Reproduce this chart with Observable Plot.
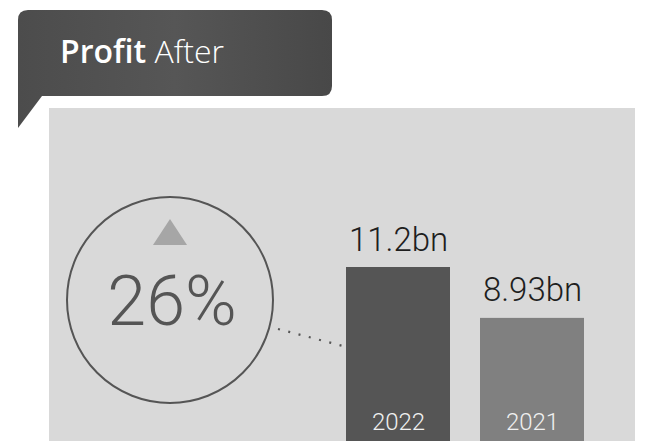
<!DOCTYPE html>
<html>
<head>
<meta charset="utf-8">
<script src="https://cdn.jsdelivr.net/npm/d3@7"></script>
<script src="https://cdn.jsdelivr.net/npm/@observablehq/plot@0.6"></script>
<style>
  html, body { margin: 0; padding: 0; background: #fff; overflow: hidden; }
  #wrap { position: relative; width: 655px; height: 441px; overflow: hidden; background: #fff; font-family: Roboto, "Open Sans", sans-serif; }
  #deco, #chart { position: absolute; left: 0; top: 0; }
  #chart svg { background: transparent; overflow: hidden; }
</style>
</head>
<body>
<div id="wrap">
  <svg id="deco" width="655" height="441" xmlns="http://www.w3.org/2000/svg">
    <defs>
      <linearGradient id="hdr" x1="0" x2="1" y1="0" y2="0">
        <stop offset="0" stop-color="#4c4c4c"/>
        <stop offset="0.5" stop-color="#565656"/>
        <stop offset="1" stop-color="#484848"/>
      </linearGradient>
    </defs>
    <!-- header speech bubble -->
    <path d="M28,10 H322 Q332,10 332,20 V86 Q332,96 322,96 H42 L18,128 V20 Q18,10 28,10 Z" fill="url(#hdr)"/>
    <text id="title" x="60" y="63" fill="#ffffff" font-family="'Open Sans', sans-serif" font-size="32"></text>
    <!-- grey panel -->
    <rect x="49" y="108" width="586" height="340" fill="#d9d9d9"/>
    <!-- change circle -->
    <circle cx="170" cy="300" r="103" fill="none" stroke="#555" stroke-width="2"/>
    <path d="M170,219 L187,245 L153,245 Z" fill="#a6a6a6"/>
    <text id="pct" x="172" y="325" text-anchor="middle" fill="#555" font-family="Roboto, sans-serif" font-weight="300" font-size="70"></text>
    <line x1="278" y1="329" x2="343" y2="346" stroke="#555" stroke-width="2.2" stroke-dasharray="2 8.6" />
  </svg>
  <div id="chart"></div>
</div>
<script>
// ---- data ----
const titleBold = "Profit";
const titleLight = "After";
const years = ["2022", "2021"];
const values = [11.2, 8.93];
const valueLabels = ["11.2bn", "8.93bn"];
const changePct = 26;
const barColors = ["#555555", "#808080"];

const data = years.map((y, i) => ({year: y, value: values[i], label: valueLabels[i], color: barColors[i]}));

// title
const t = document.getElementById("title");
t.innerHTML = `<tspan font-weight="600">${titleBold}</tspan><tspan font-weight="300"> ${titleLight}</tspan>`;
document.getElementById("pct").textContent = changePct + "%";

const plot = Plot.plot({
  width: 655,
  height: 441,
  margin: 0,
  style: {background: "transparent", fontFamily: "Roboto, sans-serif"},
  x: {type: "band", domain: years, range: [345, 584], paddingInner: 0.227, paddingOuter: 0, align: 0.5, axis: null},
  y: {domain: [0, 11.2], range: [518, 267], axis: null},
  marks: [
    Plot.barY(data, {x: "year", y: "value", fill: "color"}),
    Plot.text(data, {x: "year", y: "value", text: "label", lineAnchor: "bottom", dy: -17, fontSize: 33, fontWeight: 300, fill: "#1e1e1e"}),
    Plot.text(data, {x: "year", text: "year", frameAnchor: "bottom", lineAnchor: "bottom", dy: -12, fontSize: 24, fontWeight: 300, fill: "#f0f0f0"})
  ]
});
document.getElementById("chart").appendChild(plot);
</script>
</body>
</html>
